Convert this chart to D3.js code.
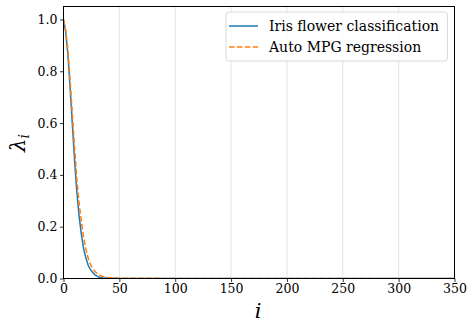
<!DOCTYPE html>
<html lang="en">
  <head>
    <meta charset="UTF-8">
    <title>Eigenvalue decay</title>
    <style>
      body { margin: 0; background: #fff; }
      svg { display: block; font-family: "DejaVu Serif", serif; }
      svg text { font-family: "DejaVu Serif", serif !important; }
    </style>
    <script src="https://d3js.org/d3.v7.min.js"></script>
  </head>
  <body>
    <script>
      var idx = [0, 2, 4, 6, 8, 10, 12, 14, 16, 18, 20, 22, 24, 26, 28, 30, 32, 35, 40, 45, 50, 100, 350];
      var iris = [1.0, 0.95, 0.86, 0.73, 0.59, 0.45, 0.33, 0.24, 0.17, 0.115, 0.08, 0.052, 0.035, 0.024, 0.015, 0.009, 0.005, 0.0025, 0.001, 0.0005, 0.0003, 0.0001, 0];
      var mpg = [1.0, 0.96, 0.88, 0.76, 0.63, 0.5, 0.38, 0.29, 0.22, 0.16, 0.115, 0.08, 0.056, 0.04, 0.028, 0.02, 0.014, 0.008, 0.004, 0.002, 0.001, 0.0003, 0];
      var xTicks = [0, 50, 100, 150, 200, 250, 300, 350];
      var yTicks = [0, 0.2, 0.4, 0.6, 0.8, 1.0];
      var names = ["Iris flower classification", "Auto MPG regression"];
      var colors = ["#1f77b4", "#ff7f0e"];

      var W = 473, H = 329;
      var mL = 63.5, mR = 454.5, mT = 6.5, mB = 278.5;

      var svg = d3.select("body").append("svg")
        .attr("width", W).attr("height", H);

      var x = d3.scaleLinear().domain([0, 350]).range([mL, mR]);
      var y = d3.scaleLinear().domain([0, 1.05]).range([mB, mT]);

      // vertical grid
      svg.append("g").selectAll("line").data(xTicks).enter().append("line")
        .attr("x1", d => x(d)).attr("x2", d => x(d))
        .attr("y1", mT).attr("y2", mB)
        .attr("stroke", "#dcdcdc").attr("stroke-width", 0.8);

      svg.append("clipPath").attr("id", "clip").append("rect")
        .attr("x", mL).attr("y", mT).attr("width", mR - mL).attr("height", mB - mT);

      var line = d3.line().x(d => x(d[0])).y(d => y(d[1]));
      var series = [iris, mpg];
      series.forEach(function (s, k) {
        var pts = idx.map((d, j) => [d, s[j]]);
        svg.append("path").datum(pts)
          .attr("d", line)
          .attr("clip-path", "url(#clip)")
          .attr("fill", "none")
          .attr("stroke", colors[k])
          .attr("stroke-width", 1.5)
          .attr("stroke-dasharray", k == 1 ? "5.5,2.4" : null);
      });

      var xAxis = d3.axisBottom(x).tickValues(xTicks).tickSize(3.5).tickPadding(2.5).tickFormat(d3.format("d"));
      var yAxis = d3.axisLeft(y).tickValues(yTicks).tickSize(3.5).tickPadding(2.5).tickFormat(d3.format(".1f"));
      var gx = svg.append("g").attr("transform", "translate(0," + mB + ")").call(xAxis);
      var gy = svg.append("g").attr("transform", "translate(" + mL + ",0)").call(yAxis);
      [gx, gy].forEach(function (g) {
        g.attr("font-family", null).attr("font-size", 12.5);
        g.select(".domain").remove();
        g.selectAll(".tick line").attr("stroke", "#000").attr("stroke-width", 0.8);
        g.selectAll(".tick text").attr("fill", "#000");
      });

      // spines
      svg.append("rect")
        .attr("x", mL).attr("y", mT).attr("width", mR - mL).attr("height", mB - mT)
        .attr("fill", "none").attr("stroke", "#000").attr("stroke-width", 1);

      // axis labels
      svg.append("text").attr("x", 258).attr("y", 318)
        .attr("text-anchor", "middle").attr("font-size", 21).attr("font-style", "italic")
        .text("i");
      var yl = svg.append("text").attr("transform", "translate(25,143) rotate(-90)")
        .attr("text-anchor", "middle").attr("font-size", 21).attr("font-style", "italic");
      yl.append("tspan").text("λ");
      yl.append("tspan").attr("font-size", 14).attr("dy", 4).text("i");

      // legend
      var lg = svg.append("g");
      lg.append("rect").attr("x", 226).attr("y", 12).attr("width", 221.5).attr("height", 49)
        .attr("rx", 3).attr("fill", "#fff").attr("fill-opacity", 0.8)
        .attr("stroke", "#d0d0d0").attr("stroke-width", 0.8);
      names.forEach(function (n, k) {
        var yy = 26 + k * 21;
        lg.append("line").attr("x1", 229).attr("x2", 258).attr("y1", yy).attr("y2", yy)
          .attr("stroke", colors[k]).attr("stroke-width", 1.5)
          .attr("stroke-dasharray", k == 1 ? "5.5,2.4" : null);
        lg.append("text").attr("x", 269).attr("y", yy + 5)
          .attr("font-size", 14).text(n);
      });
    </script>
  </body>
</html>
